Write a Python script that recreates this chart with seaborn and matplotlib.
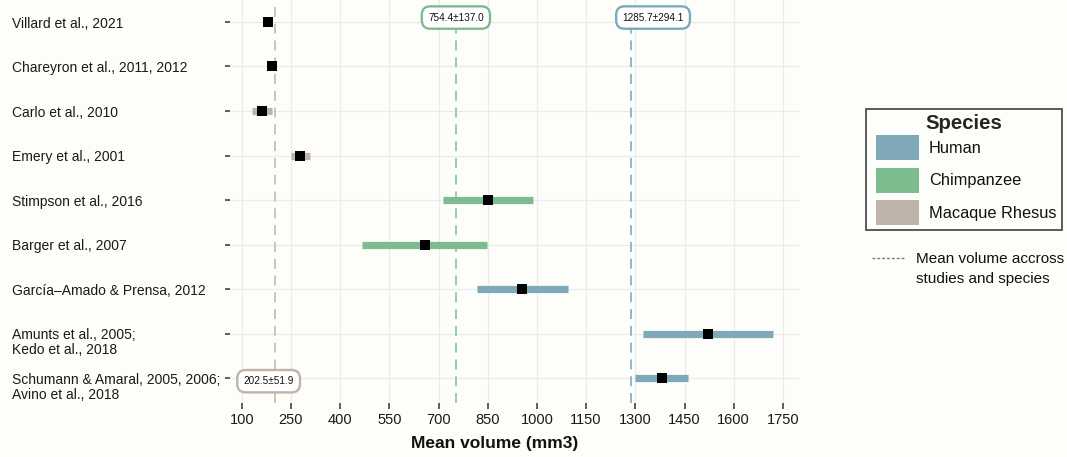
import numpy as np
import pandas as pd
import matplotlib
matplotlib.use("Agg")
import matplotlib.pyplot as plt
import matplotlib.transforms as mtransforms
import seaborn as sns
from matplotlib.patches import Patch, Rectangle
from matplotlib.lines import Line2D
from matplotlib.legend_handler import HandlerPatch

# ---------------- data ----------------
studies = [
    "Villard et al., 2021",
    "Chareyron et al., 2011, 2012",
    "Carlo et al., 2010",
    "Emery et al., 2001",
    "Stimpson et al., 2016",
    "Barger et al., 2007",
    "García–Amado & Prensa, 2012",
    "Amunts et al., 2005;\nKedo et al., 2018",
    "Schumann & Amaral, 2005, 2006;\nAvino et al., 2018",
]
species = ["Macaque Rhesus"] * 4 + ["Chimpanzee"] * 2 + ["Human"] * 3
means = [179, 191, 161, 279, 851, 658, 956, 1521, 1380]
sds = [0, 0, 30, 28, 138, 191, 138, 199, 82]

species_order = ["Human", "Chimpanzee", "Macaque Rhesus"]
species_mean = [1285.7, 754.4, 202.5]
species_sd = [294.1, 137.0, 51.9]
x_ticks = [100, 250, 400, 550, 700, 850, 1000, 1150, 1300, 1450, 1600, 1750]

# ---------------- style ----------------
palette = {"Human": "#7FA9B8", "Chimpanzee": "#7DBC8E", "Macaque Rhesus": "#BFB3AA"}
line_cols = {"Human": "#88B1C1", "Chimpanzee": "#8CCB9A", "Macaque Rhesus": "#C9BEB5"}
bg = "#FDFDFA"

sns.set_theme(style="whitegrid")
plt.rcParams["font.family"] = ["Liberation Sans", "DejaVu Sans"]

df = pd.DataFrame({"study": studies, "species": species, "mean": means, "sd": sds})
df["pos"] = np.arange(len(df))
df["lo"] = df["mean"] - df["sd"]
df["hi"] = df["mean"] + df["sd"]

fig = plt.figure(figsize=(10.67, 4.57), dpi=100, facecolor=bg)
ax = fig.add_axes([230 / 1067, 54 / 457, 569 / 1067, 403 / 457])
ax.set_facecolor(bg)

# dashed mean lines
for sp, m in zip(species_order, species_mean):
    ax.axvline(m, color=line_cols[sp], lw=1.3, linestyle=(0, (5.5, 3.8)), zorder=1)

# error bars (mean ± sd)
for sp in species_order:
    sub = df[df["species"] == sp]
    ax.hlines(sub["pos"], sub["lo"], sub["hi"], color=palette[sp], lw=5.2,
              capstyle="butt", zorder=2)

# mean squares
sns.scatterplot(data=df, x="mean", y="pos", marker="s", s=44, color="black",
                linewidth=0, ax=ax, zorder=3, legend=False)

# labels of species means
label_pos = {"Human": (1354, -0.1), "Chimpanzee": (753, -0.1), "Macaque Rhesus": (182, 8.07)}
for sp, m, s in zip(species_order, species_mean, species_sd):
    x, y = label_pos[sp]
    ax.text(x, y, f"{m:.1f}±{s:.1f}", ha="center", va="center", fontsize=7.2,
            color="#111111", zorder=5,
            bbox=dict(boxstyle="round,pad=0.62,rounding_size=0.85", fc="white",
                      ec=palette[sp], lw=1.7))

# axes
ax.set_xlim(64.3, 1799)
ax.set_ylim(8.56, -0.494)
ax.set_xticks(x_ticks)
ax.set_xticklabels([str(t) for t in x_ticks])
ax.set_yticks(df["pos"])
ax.set_yticklabels([""] * len(df))
ax.grid(True, color="#EBEBEB", lw=0.9)
ax.set_axisbelow(True)
for sp_ in ax.spines.values():
    sp_.set_visible(False)

ax.tick_params(axis="y", length=3.6, width=1.1, color="#333333", pad=2, left=True)
ax.tick_params(axis="x", length=4.2, width=1.1, color="#333333", pad=3,
               labelsize=10.5, labelcolor="#1A1A1A", bottom=True)

# study labels (left aligned, first line centred on the row)
lab_trans = mtransforms.offset_copy(
    mtransforms.blended_transform_factory(fig.transFigure, ax.transData),
    fig=fig, x=0, y=3.7, units="points")
for name, p in zip(df["study"], df["pos"]):
    ax.text(11.5 / 1067, p, name, transform=lab_trans, ha="left", va="top",
            fontsize=10, color="#1A1A1A", linespacing=1.08, clip_on=False)

ax.set_ylabel("")
ax.set_xlabel("Mean volume (mm3)", fontsize=12.5, fontweight="bold", color="#111111")
ax.xaxis.set_label_coords((495 - 230) / 569, -(436 - 403) / 403)


# species legend (patch keys inset a little from the frame)
def inset_patch(legend, orig_handle, xdescent, ydescent, width, height, fontsize):
    inset = 3.6
    return Rectangle(xy=(-xdescent + inset, -ydescent), width=width - inset, height=height)


fs_leg = 11.8
handles = [Patch(facecolor=palette[s], edgecolor="none", label=s) for s in species_order]
leg = fig.legend(handles=handles, title="Species", loc="upper left",
                 bbox_to_anchor=(866 / 1067, 1 - 109 / 457), frameon=True,
                 fontsize=fs_leg, title_fontsize=14.7, handlelength=2.9,
                 handleheight=1.97, labelspacing=0.445, handletextpad=0.62,
                 borderpad=0.32, borderaxespad=0, fancybox=False,
                 handler_map={Patch: HandlerPatch(patch_func=inset_patch)})
leg.get_title().set_fontweight("bold")
leg.get_frame().set_edgecolor("#222222")
leg.get_frame().set_linewidth(1.3)
leg.get_frame().set_facecolor(bg)
leg._legend_box.align = "center"
leg._legend_box.sep = 1.5
for t in leg.get_texts():
    t.set_color("#111111")

# mean-line key
key_y = 1 - 258 / 457
fig.add_artist(Line2D([872 / 1067, 905 / 1067], [key_y, key_y], transform=fig.transFigure,
                      color="#6E7C88", lw=1.0, linestyle=(0, (2, 1.5))))
fig.text(916 / 1067, key_y, "Mean volume accross\nstudies and species", ha="left",
         va="top", fontsize=11, color="#111111", linespacing=1.5,
         transform=mtransforms.offset_copy(fig.transFigure, fig=fig, y=4.0, units="points"))

fig.savefig("out.png", dpi=100, facecolor=bg)
